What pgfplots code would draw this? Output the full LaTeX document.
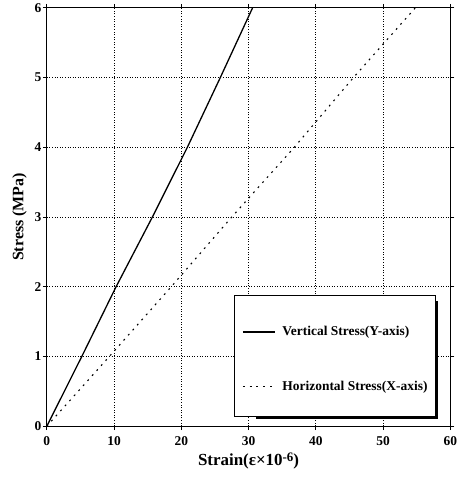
\documentclass[border=0pt]{standalone}
\usepackage{fontspec}
\setmainfont{Liberation Serif}
\usepackage{pgfplots}
\pgfplotsset{compat=1.18}
\begin{document}
\begin{tikzpicture}
\begin{axis}[
  scale only axis,
  width=405pt, height=420pt,
  xmin=0, xmax=60, ymin=0, ymax=6,
  xtick={0,10,...,60}, ytick={0,1,...,6},
  grid=major,
  major grid style={black, line width=0.8pt, dash pattern=on 1pt off 1.6pt},
  axis line style={black, line width=1pt},
  tick align=outside, major tick length=4pt,
  tick style={black, line width=0.8pt},
  /pgf/number format/assume math mode=true,
  tick label style={font=\bfseries\fontsize{13.5}{13.5}\selectfont},
  xticklabel style={yshift=-3pt},
  yticklabel style={xshift=2pt},
  xlabel={\bfseries\fontsize{17}{17}\selectfont Strain(ε×10\raisebox{0.55ex}{\fontsize{13}{13}\selectfont -6})},
  ylabel={\bfseries\fontsize{16}{16}\selectfont Stress (MPa)},
  xlabel style={yshift=0pt},
  ylabel style={yshift=1pt},
  legend style={at={(rel axis cs:0.484,0.241)}, anchor=north west,
    draw=none, fill=none, inner sep=0pt,
    font=\bfseries\fontsize{13.5}{13.5}\selectfont,
    nodes={inner sep=1pt}, row sep=42pt, column sep=6pt},
  legend cell align=left,
  legend image code/.code={\draw[#1] (0pt,0pt) -- (32pt,0pt);},
]
\addplot[black, line width=1.3pt] coordinates {
  (0,0) (5.2,1) (10.3,2) (15.7,3) (20.9,4) (25.8,5) (30.6,6)};
\addlegendentry{Vertical Stress(Y-axis)}
\addplot[black, line width=1.1pt, dash pattern=on 1.8pt off 5pt] coordinates {
  (0,0) (9.3,1) (18.5,2) (27.5,3) (36.8,4) (45.6,5) (54.8,6)};
\addlegendentry{Horizontal Stress(X-axis)}
\fill[black] ([shift={(0pt,-2.8pt)}]rel axis cs:0.519,0.024) rectangle ([shift={(2.8pt,0pt)}]rel axis cs:0.963,0.300);
\draw[black, line width=0.8pt, fill=white] (rel axis cs:0.464,0.024) rectangle (rel axis cs:0.963,0.312);
\end{axis}
\path ([shift={(-47pt,-60pt)}]current axis.south west) rectangle ([shift={(5pt,6pt)}]current axis.north east);
\end{tikzpicture}
\end{document}
